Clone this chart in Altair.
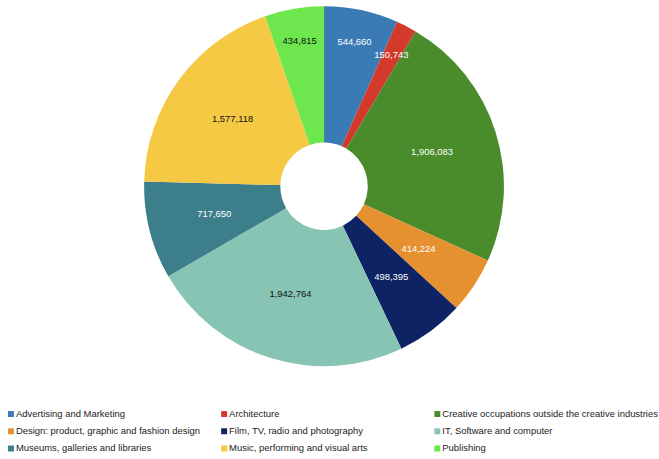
import altair as alt
import pandas as pd

categories = [
    "Advertising and Marketing",
    "Architecture",
    "Creative occupations outside the creative industries",
    "Design: product, graphic and fashion design",
    "Film, TV, radio and photography",
    "IT, Software and computer",
    "Museums, galleries and libraries",
    "Music, performing and visual arts",
    "Publishing",
]
values = [544660, 150743, 1906083, 414224, 498395, 1942764, 717650, 1577118, 434815]
colors = ["#3a7bb6", "#d43a2c", "#4a8b2b", "#e5912f", "#0e2364",
          "#88c4b4", "#3c7f8b", "#f6c944", "#6ee74f"]
dark_text_categories = ["IT, Software and computer",
                        "Music, performing and visual arts", "Publishing"]
# slices whose labels sit further out (narrow slices near the top)
outer_label_categories = ["Advertising and Marketing", "Architecture", "Publishing"]

df = pd.DataFrame({"category": categories, "value": values,
                   "idx": list(range(len(categories)))})
leg = pd.DataFrame({"category": categories,
                    "col": [i % 3 for i in range(len(categories))],
                    "row": [i // 3 for i in range(len(categories))]})

color_scale = alt.Scale(domain=categories, range=colors)
FONT = "Liberation Sans"

base = alt.Chart(df).encode(
    theta=alt.Theta("value:Q", stack=True),
    order=alt.Order("idx:Q"),
)
arcs = base.mark_arc(radius=181, innerRadius=44).encode(
    color=alt.Color("category:N", scale=color_scale, legend=None)
)
text_enc = dict(
    text=alt.Text("value:Q", format=","),
    color=alt.condition(
        alt.FieldOneOfPredicate(field="category", oneOf=dark_text_categories),
        alt.value("#111111"), alt.value("#ffffff")),
    opacity=alt.condition(
        alt.FieldOneOfPredicate(field="category", oneOf=outer_label_categories),
        alt.value(0), alt.value(1)),
)
labels_in = base.mark_text(radius=114, font=FONT, fontSize=9.5).encode(**text_enc)
text_enc_out = dict(text_enc)
text_enc_out["opacity"] = alt.condition(
    alt.FieldOneOfPredicate(field="category", oneOf=outer_label_categories),
    alt.value(1), alt.value(0))
labels_out = base.mark_text(radius=148, font=FONT, fontSize=9.5).encode(**text_enc_out)
pie = alt.layer(arcs, labels_in, labels_out).properties(width=652, height=372)

lbase = alt.Chart(leg).encode(
    x=alt.X("col:Q", scale=alt.Scale(domain=[0, 3], nice=False, zero=False), axis=None),
    y=alt.Y("row:Q", scale=alt.Scale(domain=[-0.5, 2.5], nice=False, zero=False, reverse=True), axis=None),
)
lsym = lbase.mark_square(size=36, xOffset=11, opacity=1).encode(
    color=alt.Color("category:N", scale=color_scale, legend=None)
)
ltxt = lbase.mark_text(align="left", baseline="middle", dx=16, font=FONT,
                       fontSize=9.5, color="#222222").encode(text="category:N")
legend = alt.layer(lsym, ltxt).properties(width=643.5, height=52)

chart = alt.vconcat(pie, legend, spacing=34.5).properties(
    padding=0, background="white"
).configure_view(stroke=None)

chart.save("out.html", embed_options={"renderer": "svg", "actions": False})
